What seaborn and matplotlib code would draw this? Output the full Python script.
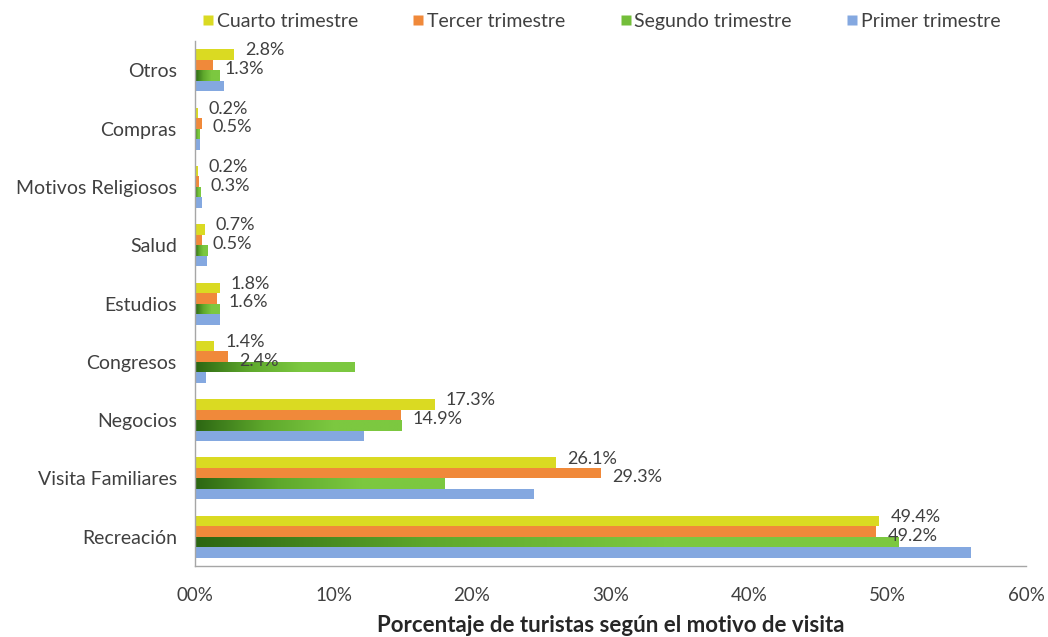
import numpy as np
import pandas as pd
import matplotlib
matplotlib.use("Agg")
import matplotlib.pyplot as plt
import seaborn as sns
from matplotlib.colors import LinearSegmentedColormap
from matplotlib.ticker import FixedLocator

# categories top to bottom
motivos = ["Otros", "Compras", "Motivos Religiosos", "Salud", "Estudios",
           "Congresos", "Negocios", "Visita Familiares", "Recreación"]
trimestres = ["Cuarto trimestre", "Tercer trimestre", "Segundo trimestre", "Primer trimestre"]

cuarto = [2.8, 0.2, 0.2, 0.7, 1.8, 1.4, 17.3, 26.1, 49.4]
tercer = [1.3, 0.5, 0.3, 0.5, 1.6, 2.4, 14.9, 29.3, 49.2]
segundo = [1.8, 0.3, 0.4, 0.9, 1.8, 11.5, 14.9, 18.0, 50.8]
primer = [2.1, 0.4, 0.5, 0.9, 1.8, 0.8, 12.2, 24.5, 56.0]

x_ticks = [0, 10, 20, 30, 40, 50, 60]
x_tick_labels = ["00%", "10%", "20%", "30%", "40%", "50%", "60%"]

colores = ["#DADA22", "#F0893A", "#74BE3A", "#84A8E0"]

df = pd.DataFrame({
    "motivo": motivos * 4,
    "trimestre": np.repeat(trimestres, len(motivos)),
    "valor": cuarto + tercer + segundo + primer,
})

sns.set_style("white")
plt.rcParams["font.family"] = ["Lato", "DejaVu Sans"]

fig = plt.figure(figsize=(10.48, 6.37), dpi=100)
ax = fig.add_axes([0.186, 0.1115, 0.793, 0.824])

sns.barplot(data=df, y="motivo", x="valor", hue="trimestre", order=motivos,
            hue_order=trimestres, palette=colores, orient="h", width=0.72,
            saturation=1, edgecolor="none", ax=ax, legend=False)

# green bars get a dark-to-light gradient like the original
verde = LinearSegmentedColormap.from_list("verde", ["#2C6612", "#5EA82C", "#7CC840", "#7CC840"])
grad = np.linspace(0, 1, 256).reshape(1, -1)
for bar in ax.containers[2]:
    x0, y0 = bar.get_x(), bar.get_y()
    w, h = bar.get_width(), bar.get_height()
    bar.set_facecolor("none")
    im = ax.imshow(grad, cmap=verde, aspect="auto", extent=[x0, x0 + w, y0 + h, y0],
                   zorder=bar.get_zorder(), interpolation="bilinear")
    im.set_clip_path(bar)

# data labels for cuarto and tercer, nudged apart a little like excel does
for cont, vals, dy in zip(ax.containers[:2], [cuarto, tercer], [3, -3]):
    txts = ax.bar_label(cont, labels=[f"{v:.1f}%" for v in vals], padding=8,
                        fontsize=13, color="#404040")
    for t in txts:
        t.xyann = (8, dy)

ax.set_xlim(0, 60)
ax.set_ylim(len(motivos) - 0.5, -0.5)
ax.xaxis.set_major_locator(FixedLocator(x_ticks))
ax.set_xticklabels(x_tick_labels)
ax.tick_params(axis="x", length=0, labelsize=13.5, labelcolor="#404040", pad=15)
ax.tick_params(axis="y", length=0, labelsize=14, labelcolor="#404040", pad=13)
ax.set_ylabel("")
ax.set_xlabel("Porcentaje de turistas según el motivo de visita", fontsize=16,
              fontweight="bold", color="#262626", labelpad=8)

for s in ["top", "right"]:
    ax.spines[s].set_visible(False)
for s in ["left", "bottom"]:
    ax.spines[s].set_color("#A6A6A6")
    ax.spines[s].set_linewidth(1)

handles = [plt.Line2D([], [], marker="s", linestyle="none", markersize=7,
                      markerfacecolor=c, markeredgecolor="none") for c in colores]
fig.legend(handles, trimestres, loc="center", bbox_to_anchor=(0.573, 0.967),
           ncol=4, frameon=False, fontsize=14, handletextpad=0.05, columnspacing=2.7,
           handlelength=0.8, labelcolor="#404040")

fig.savefig("out.png", dpi=100)
